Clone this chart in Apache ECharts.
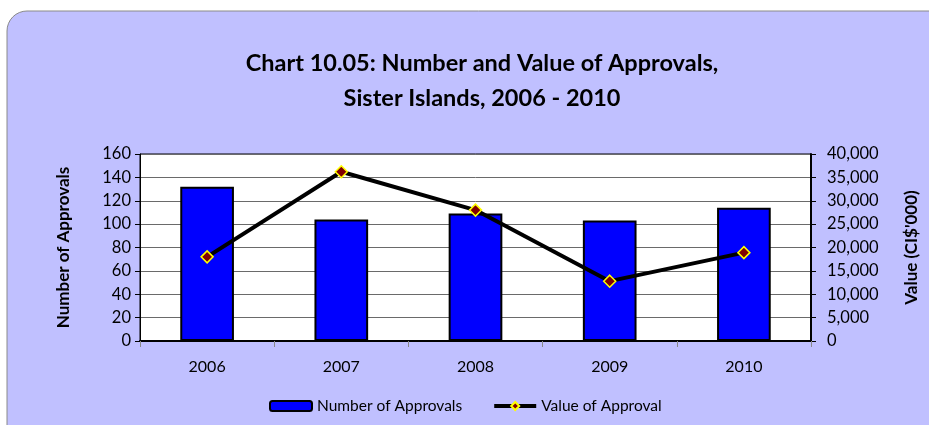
<!DOCTYPE html>
<html><head><meta charset="utf-8">
<script src="https://cdn.jsdelivr.net/npm/echarts@6/dist/echarts.min.js"></script>
<style>html,body{margin:0;padding:0;background:#fff}#c{width:929px;height:425px}</style>
</head><body><div id="c"></div>
<script>
const categories = ['2006','2007','2008','2009','2010'];
const numberOfApprovals = [132, 104, 109, 103, 114];
const valueOfApproval = [18000, 36200, 28000, 12800, 18900];
const leftTicks = {min:0, max:160, interval:20};
const rightTicks = {min:0, max:40000, interval:5000};

const FONT = 'Lato';
const chart = echarts.init(document.getElementById('c'));
chart.setOption({
  animation:false,
  backgroundColor:'#fff',
  graphic:[{type:'rect', z:-10, shape:{x:7,y:11,width:1000,height:500,r:20},
    style:{fill:'#C0C0FF', stroke:'#8a8a8a', lineWidth:1}}],
  title:{text:'Chart 10.05: Number and Value of Approvals,\nSister Islands, 2006 - 2010',
    left:477, top:41, textAlign:'center',
    textStyle:{fontFamily:FONT, fontSize:23.5, fontWeight:'bold', color:'#000', lineHeight:35}},
  legend:{left:264, top:393, itemGap:30, itemWidth:42, itemHeight:10,
    textStyle:{fontFamily:FONT, fontSize:15.5, color:'#000'},
    data:[{name:'Number of Approvals'},
      {name:'Value of Approval', lineStyle:{width:4, color:'#000'}}]},
  grid:{left:140, right:118, top:154, bottom:84, show:true, backgroundColor:'#fff', borderColor:'#000', borderWidth:1},
  xAxis:{type:'category', data:categories,
    axisLine:{lineStyle:{color:'#000', width:2}},
    axisTick:{show:true, length:6, lineStyle:{color:'#888'}},
    axisLabel:{fontFamily:FONT, fontSize:16, color:'#000', margin:18}},
  yAxis:[{type:'value', min:leftTicks.min, max:leftTicks.max, interval:leftTicks.interval,
    name:'Number of Approvals', nameLocation:'middle', nameGap:68, nameRotate:90,
    nameTextStyle:{fontFamily:FONT, fontSize:17, fontWeight:'bold', color:'#000'},
    axisLine:{show:true, lineStyle:{color:'#000', width:1}},
    axisTick:{show:true, length:5, lineStyle:{color:'#000'}},
    axisLabel:{fontFamily:FONT, fontSize:16.5, color:'#000', margin:9},
    splitLine:{lineStyle:{color:'#6a6a6a', width:1}}},
   {type:'value', min:rightTicks.min, max:rightTicks.max, interval:rightTicks.interval,
    name:"Value (CI$'000)", nameLocation:'middle', nameGap:92, nameRotate:90,
    nameTextStyle:{fontFamily:FONT, fontSize:17, fontWeight:'bold', color:'#000'},
    axisLine:{show:true, lineStyle:{color:'#000', width:2}},
    axisTick:{show:true, length:5, lineStyle:{color:'#000'}},
    axisLabel:{fontFamily:FONT, fontSize:16.5, color:'#000', margin:16,
      formatter:v=>v.toLocaleString('en-US')},
    splitLine:{show:false}}],
  series:[{name:'Number of Approvals', type:'bar', data:numberOfApprovals, barWidth:'40%',
      itemStyle:{color:'#0000FF', borderColor:'#000', borderWidth:2}},
    {name:'Value of Approval', type:'line', yAxisIndex:1, data:valueOfApproval,
      symbol:'diamond', symbolSize:12,
      lineStyle:{color:'#000', width:4},
      itemStyle:{color:'#800000', borderColor:'#FFFF00', borderWidth:1.5}}]
});
</script></body></html>
